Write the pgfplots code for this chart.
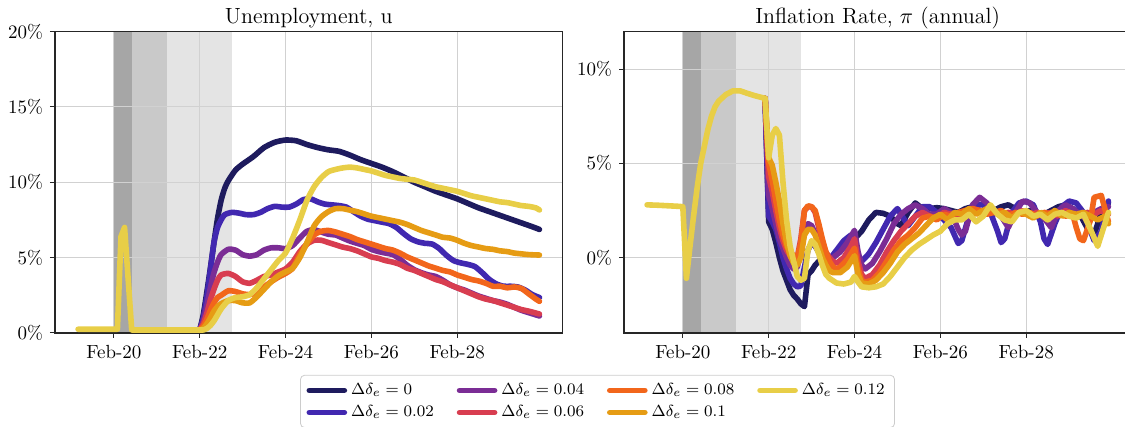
\documentclass[border=0pt]{standalone}
\usepackage{pgfplots}
\pgfplotsset{compat=1.18}
\definecolor{c0}{HTML}{1E1B5E}
\definecolor{c1}{HTML}{4128B0}
\definecolor{c2}{HTML}{7B2D95}
\definecolor{c3}{HTML}{D83D50}
\definecolor{c4}{HTML}{F2661B}
\definecolor{c5}{HTML}{E69C14}
\definecolor{c6}{HTML}{E8CE47}
\definecolor{sh1}{HTML}{A6A6A6}
\definecolor{sh2}{HTML}{C9C9C9}
\definecolor{sh3}{HTML}{E4E4E4}
\pgfplotsset{
  myaxis/.style={
    set layers,
    scale only axis, width=253.75pt, height=150.75pt,
    xmin=-16.45, xmax=125.45,
    xtick={0,24,48,72,96}, xticklabels={Feb-20,Feb-22,Feb-24,Feb-26,Feb-28},
    grid=major, major grid style={line width=0.5pt, black!18},
    tick align=outside, major tick length=2.5pt,
    xtick pos=bottom, ytick pos=left,
    tick style={black!85, line width=0.5pt},
    axis line style={black!85, line width=0.6pt},
    ticklabel style={font=\fontsize{9.5}{11}\selectfont},
    every axis title/.style={font=\fontsize{11}{13}\selectfont, at={(0.5,1)}, anchor=base, yshift=4.2pt},
    every axis plot/.append style={line width=2.8pt, line join=round, line cap=round},
    legend image code/.code={\draw[#1] (0pt,0pt) -- (17.5pt,0pt);},
  }
}
\begin{document}
\begin{tikzpicture}
% ---------------- Unemployment ----------------
\begin{axis}[myaxis, at={(27.5pt,47pt)}, anchor=south west,
  title={Unemployment, u},
  ymin=0, ymax=20, ytick={0,5,10,15,20}, yticklabels={0\%,5\%,10\%,15\%,20\%},
  legend columns=2, transpose legend,
  legend style={at={(1.069,-0.139)}, anchor=north, draw=black!20, rounded corners=2pt,
    font=\fontsize{8}{9}\selectfont, fill=white,
    /tikz/every even column/.append style={column sep=9.5pt}},
  legend cell align=left]
\begin{pgfonlayer}{axis background}
\fill[sh1] (axis cs:0,0) rectangle (axis cs:5,20);
\fill[sh2] (axis cs:5,0) rectangle (axis cs:15,20);
\fill[sh3] (axis cs:15,0) rectangle (axis cs:33,20);
\end{pgfonlayer}
\addplot[c0, smooth, tension=0.4] coordinates {(24,0.2)(25,1.2)(26,2.7)(27,4.3)(28,6.0)(29,7.6)(30,8.8)(31,9.6)(32,10.1)(34,10.8)(36,11.2)(39,11.7)(42,12.3)(45,12.65)(48,12.8)(51,12.75)(54,12.5)(57,12.3)(60,12.15)(63,12.05)(66,11.8)(69,11.5)(72,11.25)(75,11.0)(78,10.7)(81,10.35)(84,10.0)(87,9.7)(90,9.4)(93,9.15)(96,8.9)(99,8.6)(102,8.3)(105,8.05)(108,7.8)(111,7.55)(114,7.3)(117,7.05)(119,6.87)};
\addlegendentry{$\Delta\delta_e = 0$}
\addplot[c1, smooth, tension=0.4] coordinates {(24,0.2)(25,1.0)(26,2.4)(27,4.2)(28,6.0)(29,7.0)(30,7.5)(31,7.85)(33,8.0)(35,7.95)(37,7.85)(39,7.85)(41,8.0)(43,8.25)(45,8.4)(47,8.35)(49,8.35)(51,8.55)(53,8.85)(55,8.9)(57,8.7)(59,8.55)(61,8.5)(63,8.45)(65,8.35)(67,8.05)(69,7.75)(71,7.55)(73,7.45)(75,7.35)(77,7.25)(79,7.0)(81,6.6)(83,6.25)(85,6.05)(87,5.95)(89,5.9)(91,5.6)(93,5.15)(95,4.8)(97,4.65)(99,4.55)(101,4.4)(103,4.0)(105,3.55)(107,3.25)(109,3.1)(111,3.1)(113,3.05)(115,2.85)(117,2.55)(119,2.35)};
\addlegendentry{$\Delta\delta_e = 0.02$}
\addplot[c2, smooth, tension=0.4] coordinates {(24,0.2)(25,0.8)(26,1.8)(27,3.0)(28,4.0)(29,4.7)(30,5.2)(32,5.55)(34,5.5)(36,5.2)(38,5.1)(40,5.2)(42,5.5)(44,5.65)(46,5.65)(48,5.6)(50,5.8)(52,6.3)(54,6.75)(56,6.85)(58,6.7)(60,6.55)(62,6.5)(64,6.3)(66,6.1)(68,5.95)(70,5.8)(72,5.55)(74,5.4)(76,5.3)(78,5.2)(80,4.9)(82,4.5)(84,4.2)(86,4.0)(88,3.85)(90,3.75)(92,3.5)(94,3.2)(96,3.0)(98,2.85)(100,2.65)(102,2.45)(104,2.3)(106,2.15)(108,2.05)(110,1.9)(112,1.7)(114,1.5)(116,1.35)(119,1.13)};
\addlegendentry{$\Delta\delta_e = 0.04$}
\addplot[c3, smooth, tension=0.4] coordinates {(24,0.2)(25,0.6)(26,1.3)(27,2.2)(28,2.9)(29,3.5)(30,3.85)(32,3.95)(34,3.75)(36,3.4)(38,3.3)(40,3.5)(42,3.75)(44,3.85)(46,4.05)(48,4.25)(50,4.7)(52,5.4)(54,5.9)(56,6.15)(58,6.15)(60,6.0)(62,5.85)(64,5.7)(66,5.6)(68,5.45)(70,5.25)(72,5.05)(74,4.95)(76,4.8)(78,4.7)(80,4.55)(82,4.3)(84,4.15)(86,3.95)(88,3.75)(90,3.55)(92,3.4)(94,3.2)(96,3.0)(98,2.8)(100,2.6)(102,2.4)(104,2.25)(106,2.15)(108,2.0)(110,1.85)(112,1.7)(114,1.55)(116,1.45)(119,1.26)};
\addlegendentry{$\Delta\delta_e = 0.06$}
\addplot[c4, smooth, tension=0.4] coordinates {(24,0.2)(25,0.45)(26,0.9)(27,1.5)(28,2.0)(29,2.35)(30,2.5)(32,2.8)(34,2.75)(36,2.6)(38,2.55)(40,2.7)(42,3.05)(44,3.4)(46,3.7)(48,3.95)(50,4.3)(52,5.2)(54,5.9)(56,6.5)(58,6.75)(60,6.8)(62,6.7)(64,6.55)(66,6.4)(68,6.2)(70,6.05)(72,5.9)(74,5.75)(76,5.6)(78,5.5)(80,5.3)(82,5.05)(84,4.85)(86,4.65)(88,4.45)(90,4.3)(92,4.15)(94,4.05)(96,3.85)(98,3.7)(100,3.55)(102,3.45)(104,3.3)(106,3.1)(108,3.1)(110,3.0)(112,3.05)(114,2.95)(116,2.6)(118,2.25)(119,2.1)};
\addlegendentry{$\Delta\delta_e = 0.08$}
\addplot[c5, smooth, tension=0.4] coordinates {(24,0.2)(25,0.3)(26,0.6)(27,1.0)(28,1.45)(29,1.75)(30,1.95)(32,2.15)(34,2.15)(36,2.0)(38,2.0)(40,2.4)(42,2.9)(44,3.4)(46,3.8)(48,4.05)(50,4.3)(52,5.0)(54,6.0)(56,7.1)(58,7.7)(60,8.05)(62,8.25)(64,8.25)(66,8.15)(68,8.05)(70,7.9)(72,7.75)(74,7.65)(76,7.55)(78,7.45)(80,7.35)(82,7.2)(84,7.0)(86,6.8)(88,6.65)(90,6.5)(92,6.35)(94,6.3)(96,6.15)(98,5.95)(100,5.8)(102,5.7)(104,5.6)(106,5.55)(108,5.45)(110,5.4)(112,5.3)(114,5.25)(116,5.2)(119,5.17)};
\addlegendentry{$\Delta\delta_e = 0.1$}
\addplot[c6, smooth, tension=0.4] coordinates {(24,0.2)(25,0.2)(26,0.3)(27,0.5)(28,0.8)(29,1.2)(30,1.6)(32,2.15)(34,2.35)(36,2.4)(38,2.55)(40,3.0)(42,3.6)(44,4.2)(46,4.8)(48,5.3)(50,6.3)(52,7.5)(54,8.8)(56,9.7)(58,10.3)(60,10.7)(62,10.85)(64,10.95)(66,11.0)(68,10.95)(70,10.85)(72,10.75)(74,10.6)(76,10.45)(78,10.35)(80,10.25)(82,10.2)(84,10.15)(86,10.0)(88,9.85)(90,9.7)(92,9.6)(94,9.5)(96,9.4)(98,9.25)(100,9.1)(102,9.0)(104,8.9)(106,8.8)(108,8.7)(110,8.65)(112,8.55)(114,8.45)(116,8.4)(118,8.3)(119,8.16)};
\addlegendentry{$\Delta\delta_e = 0.12$}
\addplot[c6, forget plot] coordinates {(-10,0.25)(0,0.25)(1,0.25)(2,6.4)(3,7.0)(4,3.6)(5,0.2)(24,0.2)};
\end{axis}
% ---------------- Inflation ----------------
\begin{axis}[myaxis, at={(312pt,47pt)}, anchor=south west,
  title={Inflation Rate, $\pi$ (annual)},
  ymin=-4, ymax=12, ytick={0,5,10}, yticklabels={0\%,5\%,10\%}]
\begin{pgfonlayer}{axis background}
\fill[sh1] (axis cs:0,-4) rectangle (axis cs:5,12);
\fill[sh2] (axis cs:5,-4) rectangle (axis cs:15,12);
\fill[sh3] (axis cs:15,-4) rectangle (axis cs:33,12);
\end{pgfonlayer}
\addplot[c0] coordinates {(23,8.45)(24,1.9)(25,1.5)(26,0.8)(27,0.0)(28,-0.7)(29,-1.2)(30,-1.7)(31,-2.0)(32,-2.2)(33,-2.45)(34,-2.6)(35,-0.9)(36,-0.7)(37,-0.4)(38,-0.2)(39,0.0)(40,0.1)(41,-0.1)(42,0.0)(44,0.4)(46,0.7)(48,1.0)(50,1.4)(52,2.0)(54,2.4)(56,2.35)(58,2.2)(60,1.8)(61,1.7)(63,2.4)(65,2.9)(67,2.6)(69,2.6)(71,2.65)(73,2.6)(75,2.5)(77,2.4)(79,2.6)(81,2.7)(83,2.5)(85,2.4)(87,2.5)(89,2.7)(91,2.8)(93,2.6)(95,2.4)(97,2.5)(99,2.4)(101,2.3)(103,2.5)(105,2.7)(107,2.8)(109,2.6)(111,2.3)(113,1.6)(115,1.2)(117,2.4)(119,2.9)};
\addplot[c1] coordinates {(23,8.45)(24,2.2)(25,1.9)(26,1.5)(27,0.8)(28,0.0)(29,-0.6)(30,-1.1)(31,-1.4)(32,-1.55)(33,-1.5)(34,-0.5)(35,0.4)(36,0.8)(37,0.6)(38,0.3)(39,0.1)(40,-0.1)(41,-0.1)(43,0.4)(45,0.9)(47,1.2)(48,0.6)(49,-0.2)(50,-0.2)(52,0.2)(54,0.8)(56,1.5)(58,2.2)(60,2.6)(62,2.0)(63,1.7)(65,2.2)(67,2.7)(69,2.7)(71,2.4)(73,2.0)(75,1.6)(77,0.75)(78,0.9)(80,2.2)(82,2.8)(84,2.8)(86,2.4)(88,1.4)(89,0.8)(90,1.0)(92,2.4)(94,2.9)(96,3.0)(98,2.8)(100,1.9)(101,1.0)(102,0.7)(104,1.8)(106,2.7)(108,3.0)(110,2.9)(112,2.4)(114,1.4)(115,0.9)(117,1.4)(119,3.0)};
\addplot[c2] coordinates {(23,8.45)(24,3.3)(25,2.6)(26,1.8)(27,1.0)(28,0.5)(29,0.0)(30,-0.4)(31,-0.6)(32,-0.5)(33,0.3)(34,1.4)(35,1.8)(36,1.7)(37,1.3)(38,0.9)(39,0.5)(40,0.2)(41,0.0)(42,0.0)(44,0.3)(46,0.8)(48,1.45)(49,0.3)(50,-0.4)(51,-0.6)(53,-0.3)(55,0.3)(57,1.0)(59,1.8)(61,2.3)(63,2.6)(65,2.8)(67,2.6)(69,2.3)(71,2.3)(73,2.6)(75,2.4)(77,1.5)(78,1.2)(79,1.4)(81,2.8)(83,3.2)(85,2.9)(87,2.4)(89,2.2)(91,1.6)(93,2.4)(95,3.0)(97,2.9)(99,2.4)(101,2.1)(103,1.6)(105,2.5)(107,2.8)(109,2.6)(111,2.3)(113,2.0)(115,2.4)(117,2.6)(119,2.7)};
\addplot[c3] coordinates {(23,8.45)(24,4.3)(25,3.5)(26,2.5)(27,1.6)(28,0.9)(29,0.4)(30,0.1)(31,-0.1)(32,0.0)(33,1.0)(34,2.5)(35,2.7)(36,2.7)(37,2.4)(38,1.6)(39,0.8)(40,0.3)(41,0.0)(42,-0.2)(43,-0.3)(45,0.0)(47,0.6)(48,1.0)(49,-0.2)(50,-0.9)(51,-1.1)(53,-0.9)(55,-0.4)(57,0.3)(59,0.9)(61,1.4)(63,1.8)(65,2.2)(67,2.4)(69,2.2)(71,2.1)(73,2.4)(75,2.3)(77,2.2)(79,2.5)(81,2.6)(83,2.5)(85,2.4)(87,2.5)(89,2.3)(91,2.4)(93,2.3)(95,2.5)(97,2.2)(99,2.4)(101,2.3)(103,2.4)(105,2.2)(107,2.5)(109,2.3)(111,2.2)(113,2.4)(115,2.3)(117,2.5)(119,2.3)};
\addplot[c4] coordinates {(23,8.45)(24,5.0)(25,4.1)(26,3.0)(27,2.0)(28,1.2)(29,0.6)(30,0.3)(31,0.1)(32,0.0)(33,0.8)(34,2.5)(35,2.75)(36,2.7)(37,2.5)(38,1.8)(39,1.0)(40,0.3)(41,-0.2)(42,-0.5)(43,-0.6)(44,-0.5)(46,-0.1)(48,0.5)(49,-0.6)(50,-1.2)(51,-1.3)(53,-1.2)(55,-0.8)(57,-0.2)(59,0.4)(61,0.9)(63,1.2)(65,1.6)(67,2.1)(69,2.2)(71,2.0)(73,2.3)(75,2.2)(77,2.4)(79,2.5)(81,2.6)(83,2.5)(85,2.3)(87,2.4)(89,2.5)(91,2.2)(93,2.4)(95,2.3)(97,2.4)(99,2.2)(101,2.4)(103,2.3)(105,2.4)(107,2.2)(109,2.3)(110,1.6)(111,1.0)(112,0.9)(114,2.0)(115,3.2)(117,3.3)(118,2.6)(119,1.9)};
\addplot[c5] coordinates {(23,8.45)(24,5.3)(25,4.9)(26,4.0)(27,3.0)(28,1.8)(29,0.8)(30,0.1)(31,-0.3)(32,-0.4)(33,0.0)(34,1.2)(35,1.5)(36,1.5)(37,1.2)(38,0.6)(39,0.0)(40,-0.4)(41,-0.7)(42,-0.8)(44,-0.8)(46,-0.5)(48,0.1)(49,-0.9)(50,-1.35)(52,-1.4)(54,-1.2)(56,-0.8)(58,-0.3)(60,0.3)(62,0.7)(64,1.0)(66,1.3)(68,1.7)(70,2.1)(72,2.3)(74,2.0)(76,2.4)(78,2.3)(80,2.6)(82,2.3)(84,2.5)(86,2.7)(88,2.3)(90,2.4)(92,2.1)(94,2.4)(96,2.3)(98,2.1)(100,2.4)(102,2.2)(104,2.5)(106,2.2)(108,2.4)(110,2.3)(112,2.4)(114,2.2)(116,2.0)(118,2.2)(119,1.8)};
\addplot[c6] coordinates {(23,8.45)(24,5.3)(25,6.5)(26,6.85)(27,6.5)(28,4.0)(29,2.0)(30,0.6)(31,-0.2)(32,-1.0)(33,-1.2)(34,-1.1)(35,0.4)(36,0.9)(37,0.7)(38,0.2)(39,-0.4)(40,-0.9)(41,-1.1)(43,-1.35)(45,-1.4)(47,-1.3)(48,-1.0)(49,-1.3)(50,-1.55)(52,-1.6)(54,-1.55)(56,-1.4)(58,-1.0)(60,-0.5)(62,0.0)(64,0.4)(66,0.7)(68,0.95)(70,1.2)(72,1.4)(74,1.8)(76,2.0)(78,2.0)(80,2.3)(82,1.9)(84,2.2)(86,2.8)(88,2.3)(90,2.0)(92,1.9)(94,2.4)(96,2.5)(98,2.2)(100,2.3)(102,2.0)(104,2.3)(106,2.4)(108,2.2)(110,2.1)(112,2.3)(114,1.5)(116,0.6)(118,1.8)(119,2.4)};
\addplot[c6] coordinates {(-10,2.8)(-7,2.78)(-4,2.75)(-1,2.72)(0,2.7)(1,-1.1)(2,0.6)(3,2.2)(4,3.7)(5,5.0)(6,5.9)(7,6.8)(8,7.5)(9,8.0)(10,8.3)(12,8.65)(14,8.85)(16,8.85)(18,8.72)(20,8.6)(22,8.5)(23,8.45)};
\end{axis}
\pgfresetboundingbox
\useasboundingbox (0,0) rectangle (562.5pt,213.5pt);
\end{tikzpicture}
\end{document}
